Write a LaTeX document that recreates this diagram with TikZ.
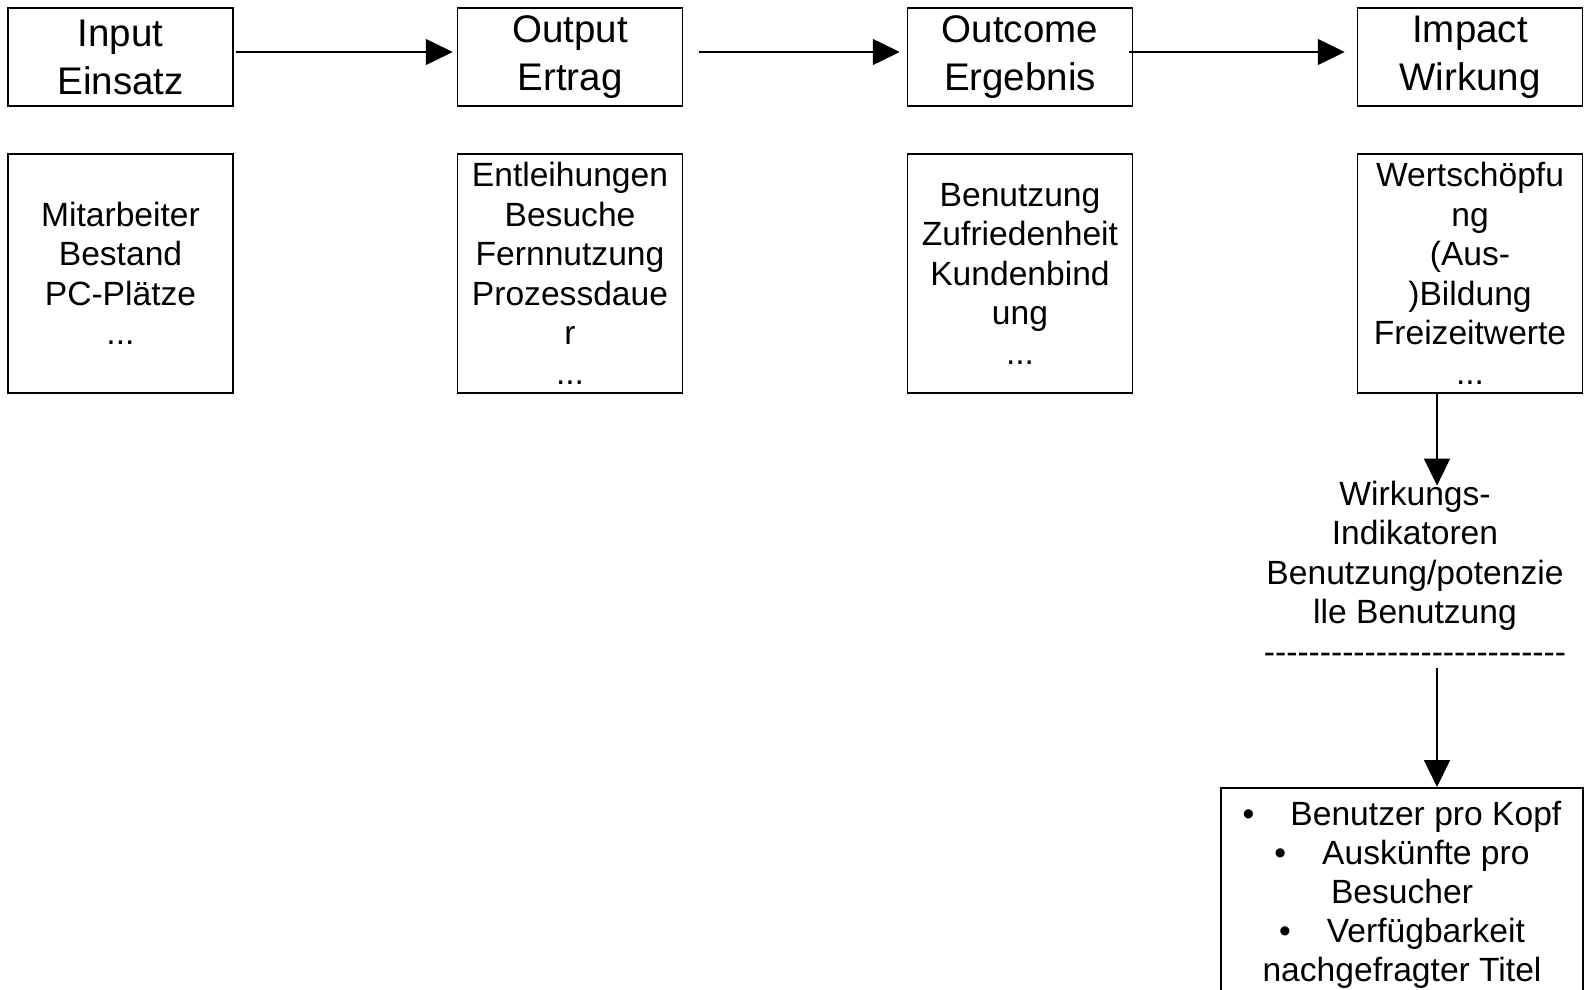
\documentclass[tikz,border=0pt]{standalone}
\usepackage{fontspec}
\setmainfont{Liberation Sans}
\usetikzlibrary{arrows.meta}

\begin{document}
\begin{tikzpicture}[x=1pt,y=-1pt,
  headbox/.style={draw,line width=1.5pt,minimum width=225pt,minimum height=98pt,
    inner sep=0pt,align=center,font=\fontsize{38.5}{48}\selectfont},
  listbox/.style={draw,line width=1.5pt,minimum width=225pt,minimum height=239pt,
    inner sep=0pt,align=center,font=\fontsize{33.6}{39.5}\selectfont},
  flow/.style={line width=1.5pt,-{Triangle[length=27pt,width=26pt]}}]
\useasboundingbox (0,0) rectangle (1588,990);
\clip (0,0) rectangle (1588,990);

% stages
\node[headbox] (in) at (120.5,57) {Input\\Einsatz};
\node[headbox] (out) at (570,57) {Output\\Ertrag};
\node[headbox] (oc) at (1020,57) {Outcome\\Ergebnis};
\node[headbox] (im) at (1470,57) {Impact\\Wirkung};

% examples under each stage
\node[listbox] (inl) at (120.5,273.5) {Mitarbeiter\\Bestand\\PC-Plätze\\...};
\node[listbox] (outl) at (570,273.5) {Entleihungen\\Besuche\\Fernnutzung\\Prozessdaue\\r\\...};
\node[listbox] (ocl) at (1020,273.5) {Benutzung\\Zufriedenheit\\Kundenbind\\ung\\...};
\node[listbox] (iml) at (1470,273.5) {Wertschöpfu\\ng\\(Aus-\\)Bildung\\Freizeitwerte\\...};

\coordinate (ax) at (1437,0);
\node[inner sep=0pt,align=center,font=\fontsize{33.6}{39.5}\selectfont] (ind) at (1415,572)
  {Wirkungs-\\Indikatoren\\Benutzung/potenzie\\lle Benutzung\\\foreach \k in {1,...,27}{-}};
\node[draw,line width=1.5pt,minimum width=362pt,inner xsep=0pt,inner ysep=13pt,anchor=north,
  align=center,font=\fontsize{33.6}{39}\selectfont] (kpi) at (1402,787)
  {\textbullet\hspace{36pt}Benutzer pro Kopf\\\textbullet\hspace{36pt}Auskünfte pro\\Besucher\\
   \textbullet\hspace{36pt}Verfügbarkeit\\nachgefragter Titel};

% connectors
\draw[flow,shorten <=2pt,shorten >=4pt] ([yshift=5pt]in.east) -- ([yshift=5pt]out.west);
\draw[flow,shorten <=16pt,shorten >=7pt] ([yshift=5pt]out.east) -- ([yshift=5pt]oc.west);
\draw[flow,shorten <=-4pt,shorten >=12pt] ([yshift=5pt]oc.east) -- ([yshift=5pt]im.west);
\draw[flow,shorten >=-5pt] (iml.south -| ax) -- (ind.north -| ax);
\draw[flow,shorten <=5pt] (ind.south -| ax) -- (kpi.north -| ax);
\end{tikzpicture}
\end{document}
